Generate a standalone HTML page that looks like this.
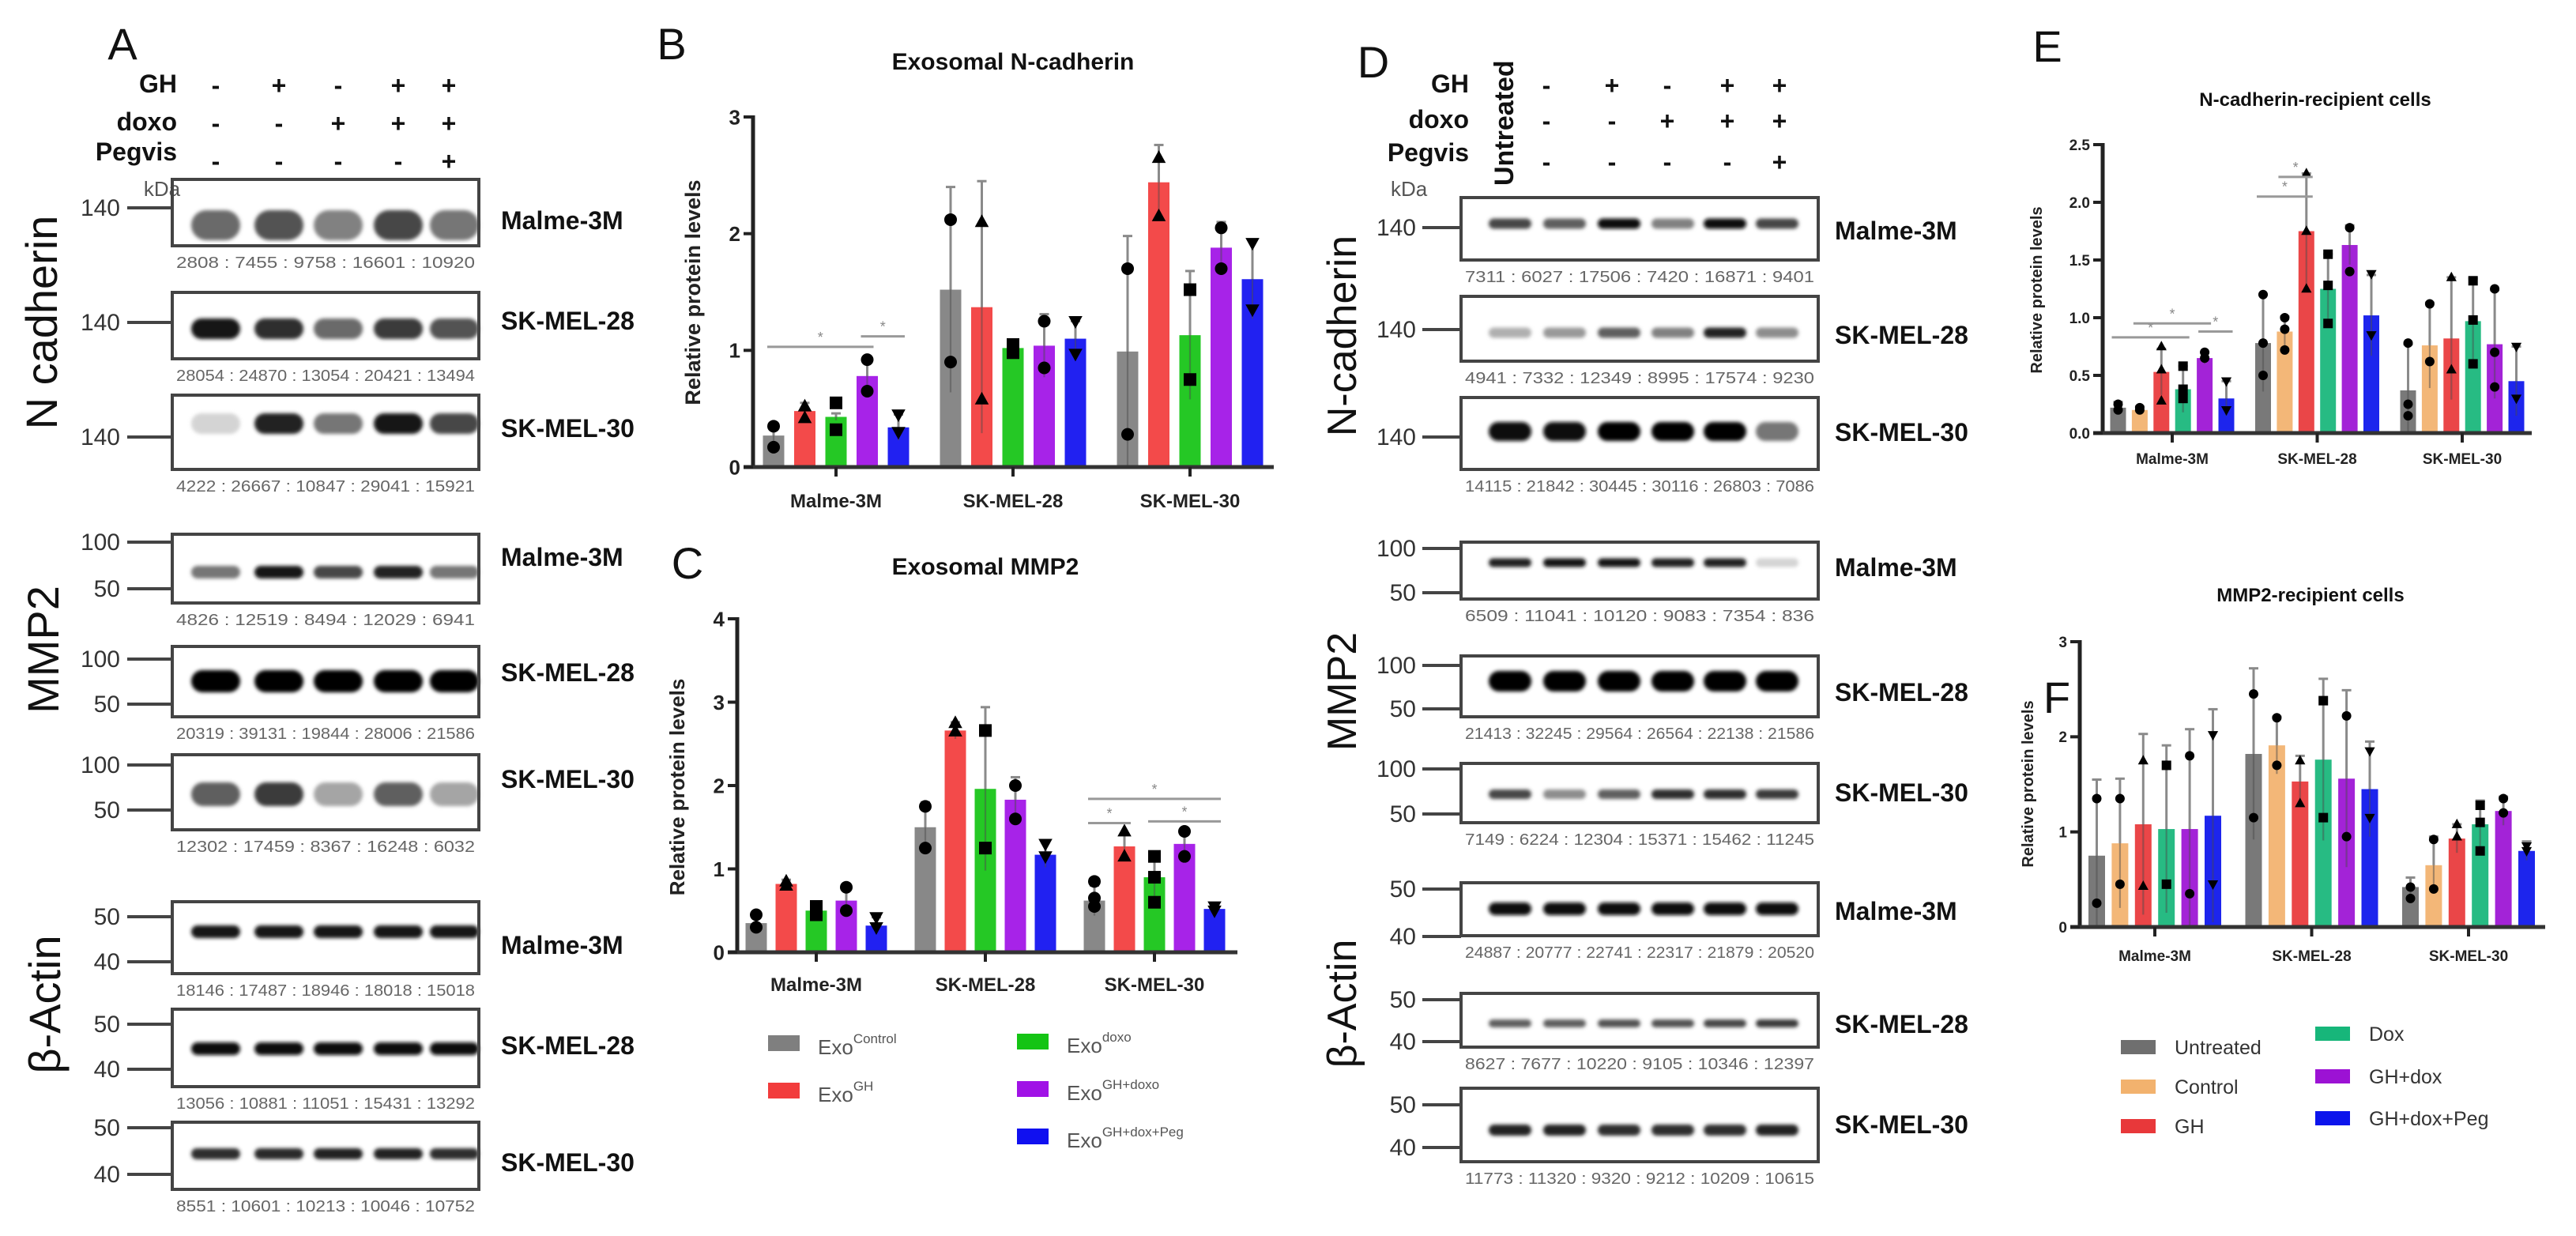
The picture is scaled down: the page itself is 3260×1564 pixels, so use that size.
<!DOCTYPE html>
<html><head><meta charset="utf-8"><title>Exosomal N-cadherin and MMP2 figure</title>
<style>
html,body{margin:0;padding:0;background:#fff;}
svg{display:block;font-family:"Liberation Sans",Arial,sans-serif;}
</style></head>
<body>
<svg id="fig" xmlns="http://www.w3.org/2000/svg" width="3260" height="1564" viewBox="0 0 3260 1564">
<defs>
<filter id="blur4" x="-30%" y="-100%" width="160%" height="300%"><feGaussianBlur stdDeviation="4"/></filter>
<filter id="blur2" x="-30%" y="-100%" width="160%" height="300%"><feGaussianBlur stdDeviation="2.5"/></filter>
</defs>
<rect x="0" y="0" width="3260" height="1564" fill="#fff"/>
<g id="blots"></g>
<g id="charts"></g>
</svg>
<script>
// ================= CHART DATA =================
var groupsBC = ["Malme-3M", "SK-MEL-28", "SK-MEL-30"];
var seriesBC = ["Control", "GH", "doxo", "GH+doxo", "GH+dox+Peg"];
var colorsBC = ["#7f7f7f", "#f23c3c", "#14c414", "#a012e6", "#1010f0"];
var markersBC = ["circle", "tri", "square", "circle", "itri"];

// Panel B: Exosomal N-cadherin (rows = group, cols = series)
var valuesB = [[0.27, 0.48, 0.43, 0.78, 0.34], [1.52, 1.37, 1.02, 1.04, 1.10], [0.99, 2.44, 1.13, 1.88, 1.61]];
var errB = [[0.06, 0.07, 0.03, 0.14, 0.11], [0.88, 1.08, 0.04, 0.27, 0.15], [0.99, 0.32, 0.55, 0.22, 0.34]];
var pointsB = [
  [[0.35, 0.17], [0.52, 0.42], [0.55, 0.32], [0.92, 0.65], [0.45, 0.3]],
  [[2.12, 0.9], [2.1, 0.58], [0.98, 1.05], [1.25, 0.85], [1.25, 0.97]],
  [[1.7, 0.28], [2.65, 2.15], [1.52, 0.75], [2.05, 1.7], [1.92, 1.35]]
];
var ticksB = [0, 1, 2, 3];
var tickLabelsB = ["0", "1", "2", "3"];

// Panel C: Exosomal MMP2
var valuesC = [[0.35, 0.82, 0.5, 0.62, 0.32], [1.5, 2.66, 1.96, 1.83, 1.17], [0.62, 1.27, 0.9, 1.3, 0.52]];
var errC = [[0.08, 0.05, 0.06, 0.15, 0.1], [0.3, 0.1, 0.98, 0.27, 0.15], [0.18, 0.15, 0.25, 0.15, 0.05]];
var pointsC = [
  [[0.45, 0.3], [0.85, 0.8], [0.55, 0.45], [0.78, 0.5], [0.42, 0.3]],
  [[1.75, 1.25], [2.75, 2.65], [2.66, 1.25], [2.0, 1.6], [1.3, 1.15]],
  [[0.85, 0.65, 0.55], [1.45, 1.15], [1.15, 0.9, 0.6], [1.45, 1.15], [0.55, 0.5]]
];
var ticksC = [0, 1, 2, 3, 4];
var tickLabelsC = ["0", "1", "2", "3", "4"];
var legendC = ["Control", "GH", "doxo", "GH+doxo", "GH+dox+Peg"];

var groupsEF = ["Malme-3M", "SK-MEL-28", "SK-MEL-30"];
var seriesEF = ["Untreated", "Control", "GH", "Dox", "GH+dox", "GH+dox+Peg"];
var colorsEF = ["#6f6f6f", "#f2b26e", "#e8383a", "#17b67a", "#9c12d4", "#0c14ec"];
var markersEF = ["circle", "circle", "tri", "square", "circle", "itri"];

// Panel E: N-cadherin recipient cells
var valuesE = [[0.22, 0.2, 0.53, 0.38, 0.65, 0.3], [0.78, 0.88, 1.75, 1.25, 1.63, 1.02], [0.37, 0.76, 0.82, 0.97, 0.77, 0.45]];
var errE = [[0.05, 0.03, 0.2, 0.2, 0.05, 0.15], [0.42, 0.13, 0.5, 0.3, 0.17, 0.35], [0.4, 0.37, 0.53, 0.37, 0.47, 0.3]];
var pointsE = [
  [[0.25, 0.2], [0.2, 0.22], [0.75, 0.55, 0.28], [0.58, 0.38, 0.3], [0.7, 0.65], [0.45, 0.2]],
  [[1.2, 0.78, 0.5], [1.0, 0.9, 0.72], [2.25, 1.75, 1.25], [1.55, 1.28, 0.95], [1.78, 1.4], [1.38, 0.85]],
  [[0.78, 0.25, 0.15], [1.12, 0.62], [1.35, 0.55], [1.32, 0.98, 0.6], [1.25, 0.7, 0.4], [0.75, 0.3]]
];
var ticksE = [0, 0.5, 1, 1.5, 2, 2.5];
var tickLabelsE = ["0.0", "0.5", "1.0", "1.5", "2.0", "2.5"];

// Panel F: MMP2 recipient cells
var valuesF = [[0.75, 0.88, 1.08, 1.03, 1.03, 1.17], [1.82, 1.91, 1.53, 1.76, 1.56, 1.45], [0.42, 0.65, 0.93, 1.08, 1.22, 0.8]];
var errF = [[0.8, 0.68, 0.95, 0.88, 1.05, 1.12], [0.9, 0.3, 0.27, 0.85, 0.93, 0.5], [0.1, 0.3, 0.15, 0.25, 0.15, 0.1]];
var pointsF = [
  [[1.35, 0.25], [1.35, 0.45], [1.75, 0.43], [1.7, 0.45], [1.8, 0.35], [2.02, 0.45]],
  [[2.45, 1.15], [2.2, 1.7], [1.75, 1.3], [2.38, 1.15], [2.22, 0.95], [1.85, 1.15]],
  [[0.42, 0.3], [0.92, 0.4], [1.08, 0.95], [1.28, 1.1, 0.8], [1.35, 1.2], [0.85, 0.8]]
];
var ticksF = [0, 1, 2, 3];
var tickLabelsF = ["0", "1", "2", "3"];

// ================= BLOT DATA =================
var lanesA = ["ctrl", "GH", "doxo", "GH+doxo", "GH+doxo+Pegvis"];
var lanesD = ["Untreated", "ctrl", "GH", "doxo", "GH+doxo", "GH+doxo+Pegvis"];
var blotIntensityA = [
  [0.55, 0.65, 0.45, 0.7, 0.5], [0.9, 0.8, 0.55, 0.75, 0.65], [0.1, 0.85, 0.5, 0.9, 0.7],
  [0.5, 0.9, 0.7, 0.85, 0.5], [1, 1, 1, 1, 1], [0.6, 0.75, 0.3, 0.6, 0.3],
  [0.9, 0.9, 0.9, 0.9, 0.9], [0.95, 0.95, 0.95, 0.95, 0.95], [0.8, 0.82, 0.85, 0.85, 0.8]
];
var blotIntensityD = [
  [0.7, 0.6, 0.95, 0.45, 0.95, 0.7], [0.25, 0.35, 0.6, 0.45, 0.85, 0.4], [0.95, 0.95, 1, 1, 1, 0.5],
  [0.85, 0.9, 0.9, 0.85, 0.85, 0.1], [1, 1, 1, 1, 1, 1], [0.7, 0.4, 0.6, 0.8, 0.8, 0.75],
  [0.95, 0.95, 0.95, 0.95, 0.95, 0.95], [0.6, 0.6, 0.65, 0.65, 0.7, 0.75], [0.85, 0.85, 0.8, 0.8, 0.8, 0.85]
];
var quantA = [
  "2808 : 7455 : 9758 : 16601 : 10920", "28054 : 24870 : 13054 : 20421 : 13494", "4222 : 26667 : 10847 : 29041 : 15921",
  "4826 : 12519 : 8494 : 12029 : 6941", "20319 : 39131 : 19844 : 28006 : 21586", "12302 : 17459 : 8367 : 16248 : 6032",
  "18146 : 17487 : 18946 : 18018 : 15018", "13056 : 10881 : 11051 : 15431 : 13292", "8551 : 10601 : 10213 : 10046 : 10752"
];
var quantD = [
  "7311 : 6027 : 17506 : 7420 : 16871 : 9401", "4941 : 7332 : 12349 : 8995 : 17574 : 9230", "14115 : 21842 : 30445 : 30116 : 26803 : 7086",
  "6509 : 11041 : 10120 : 9083 : 7354 : 836", "21413 : 32245 : 29564 : 26564 : 22138 : 21586", "7149 : 6224 : 12304 : 15371 : 15462 : 11245",
  "24887 : 20777 : 22741 : 22317 : 21879 : 20520", "8627 : 7677 : 10220 : 9105 : 10346 : 12397", "11773 : 11320 : 9320 : 9212 : 10209 : 10615"
];
var cellLines = ["Malme-3M", "SK-MEL-28", "SK-MEL-30", "Malme-3M", "SK-MEL-28", "SK-MEL-30", "Malme-3M", "SK-MEL-28", "SK-MEL-30"];

var NS = "http://www.w3.org/2000/svg";
var svg = document.getElementById("fig");
var gBlots = document.getElementById("blots");
var gCharts = document.getElementById("charts");

function mk(tag, attrs, parent) {
  var e = document.createElementNS(NS, tag);
  for (var k in attrs) e.setAttribute(k, attrs[k]);
  parent.appendChild(e);
  return e;
}
function txt(s, attrs, parent) {
  var e = mk("text", attrs, parent);
  e.textContent = s;
  return e;
}

// ================= STATIC LABELS =================
var panelLetters = [["A", 155, 75], ["B", 850, 75], ["C", 870, 732], ["D", 1738, 98], ["E", 2591, 78], ["F", 2603, 902]];
panelLetters.forEach(function (p) {
  var t = txt(p[0], { x: p[1], y: p[2], "font-size": 56, "text-anchor": "middle", fill: "#111" }, svg);
  
  
});

// Treatment header rows
function header(cfg) {
  var g = mk("g", {}, gBlots);
  
  
  var rows = ["GH", "doxo", "Pegvis"];
  rows.forEach(function (r, i) {
    var t = txt(r, { x: cfg.labelX, y: cfg.rowY[i] + 12, "font-size": 32, "font-weight": "bold", "text-anchor": "end", fill: "#111" }, g);
    
    
    cfg.signs[i].forEach(function (s, j) {
      var st = txt(s, { x: cfg.cols[j], y: cfg.rowY[i] + (i == 2 ? 24 : 14), "font-size": 32, "font-weight": "bold", "text-anchor": "middle", fill: "#111" }, g);
      
      
    });
  });
  var k = txt("kDa", { x: cfg.kdaX, y: cfg.kdaY, "font-size": 26, fill: "#555", "text-anchor": cfg.kdaAnchor }, g);
  
  
}
header({ name: "header-a", labelX: 224, rowY: [105, 153, 191], cols: [273, 353, 428, 504, 568], kdaX: 205, kdaY: 248, kdaAnchor: "middle",
  signs: [["-", "+", "-", "+", "+"], ["-", "-", "+", "+", "+"], ["-", "-", "-", "-", "+"]] });
header({ name: "header-d", labelX: 1859, rowY: [105, 150, 192], cols: [1957, 2040, 2110, 2186, 2252], kdaX: 1760, kdaY: 248, kdaAnchor: "start",
  signs: [["-", "+", "-", "+", "+"], ["-", "-", "+", "+", "+"], ["-", "-", "-", "-", "+"]] });
var ut = txt("Untreated", { x: 0, y: 0, "font-size": 34, "font-weight": "bold", fill: "#111", transform: "translate(1915,235) rotate(-90)" }, gBlots);



// Vertical protein labels
var protLabels = [["N cadherin", 72, 408, 56], ["MMP2", 74, 822, 56], ["β-Actin", 76, 1271, 56],
  ["N-cadherin", 1716, 425, 52], ["MMP2", 1716, 875, 52], ["β-Actin", 1716, 1270, 52]];
protLabels.forEach(function (p) {
  var t = txt(p[0], { x: 0, y: 0, "font-size": p[3], "text-anchor": "middle", fill: "#111", transform: "translate(" + p[1] + "," + p[2] + ") rotate(-90)" }, gBlots);
  
  
});

// ================= BLOTS =================
var blotBoxesA = [[227, 311], [370, 454], [500, 594], [676, 763], [818, 907], [955, 1050], [1141, 1232], [1277, 1375], [1420, 1505]];
var bandYA = [285, 416, 536, 724, 862, 1005, 1179, 1327, 1460];
var bandHA = [38, 26, 26, 16, 28, 30, 16, 16, 14];
var markersA = [[["140", 263]], [["140", 408]], [["140", 553]], [["100", 686], ["50", 745]], [["100", 834], ["50", 891]], [["100", 968], ["50", 1025]], [["50", 1160], ["40", 1217]], [["50", 1296], ["40", 1353]], [["50", 1427], ["40", 1486]]];
var labelYA = [278, 405, 541, 704, 850, 985, 1195, 1322, 1470];

var blotBoxesD = [[250, 329], [375, 457], [503, 594], [686, 758], [830, 907], [966, 1041], [1117, 1184], [1257, 1325], [1377, 1470]];
var bandYD = [283, 421, 546, 712, 862, 1005, 1150, 1295, 1430];
var bandHD = [13, 13, 24, 11, 26, 12, 16, 10, 14];
var markersD = [[["140", 288]], [["140", 417]], [["140", 553]], [["100", 694], ["50", 750]], [["100", 842], ["50", 897]], [["100", 973], ["50", 1030]], [["50", 1125], ["40", 1185]], [["50", 1265], ["40", 1318]], [["50", 1398], ["40", 1452]]];
var labelYD = [291, 423, 546, 717, 875, 1002, 1152, 1295, 1422];

function drawBlots(cfg) {
  for (var b = 0; b < 9; b++) {
    var g = mk("g", {}, gBlots);
    
    
    var y0 = cfg.boxes[b][0], y1 = cfg.boxes[b][1];
    var n = cfg.intens[b].length;
    for (var l = 0; l < n; l++) {
      var v = cfg.intens[b][l];
      var shade = Math.round(235 - v * 235);
      var band = mk("rect", { x: cfg.lanes[l] - cfg.bw / 2, y: cfg.bandY[b] - cfg.bandH[b] / 2, width: cfg.bw, height: cfg.bandH[b], rx: cfg.bandH[b] / 2,
        fill: "rgb(" + shade + "," + shade + "," + shade + ")", filter: "url(#blur2)" }, g);
      
      
    }
    var box = mk("rect", { x: cfg.x0, y: y0, width: cfg.x1 - cfg.x0, height: y1 - y0, fill: "none", stroke: "#444", "stroke-width": 4 }, g);
    
    
    cfg.markers[b].forEach(function (m) {
      var ln = mk("line", { x1: cfg.mkLine0, x2: cfg.x0, y1: m[1], y2: m[1], stroke: "#444", "stroke-width": 4 }, g);
      
      
      var mt = txt(m[0], { x: cfg.mkTextX, y: m[1] + 10, "font-size": 30, "text-anchor": "end", fill: "#333" }, g);
      
      
    });
    var q = txt(cfg.quant[b], { x: (cfg.x0 + cfg.x1) / 2, y: y1 + 28, "font-size": 20, "text-anchor": "middle", fill: "#666", textLength: cfg.x1 - cfg.x0 - 10, lengthAdjust: "spacingAndGlyphs" }, g);
    
    
    var cl = txt(cellLines[b], { x: cfg.labelX, y: cfg.labelY[b] + 12, "font-size": 32, "font-weight": "bold", fill: "#111" }, g);
    
    
  }
}
drawBlots({ prefix: "a", boxes: blotBoxesA, intens: blotIntensityA, lanes: [273, 353, 428, 504, 575], bw: 62, bandY: bandYA, bandH: bandHA, x0: 218, x1: 606,
  markers: markersA, mkLine0: 161, mkTextX: 152, quant: quantA, labelX: 634, labelY: labelYA });
drawBlots({ prefix: "d", boxes: blotBoxesD, intens: blotIntensityD, lanes: [1911, 1980, 2049, 2117, 2183, 2249], bw: 54, bandY: bandYD, bandH: bandHD, x0: 1849, x1: 2301,
  markers: markersD, mkLine0: 1800, mkTextX: 1792, quant: quantD, labelX: 2322, labelY: labelYD });

// ================= CHARTS =================
function marker(shape, cx, cy, r, parent) {
  var m;
  if (shape === "circle") m = mk("circle", { cx: cx, cy: cy, r: r, fill: "#000" }, parent);
  else if (shape === "square") m = mk("rect", { x: cx - r, y: cy - r, width: 2 * r, height: 2 * r, fill: "#000" }, parent);
  else if (shape === "tri") m = mk("polygon", { points: [cx, cy - r * 1.2, cx - r * 1.1, cy + r * 0.8, cx + r * 1.1, cy + r * 0.8].join(","), fill: "#000" }, parent);
  else m = mk("polygon", { points: [cx, cy + r * 1.2, cx - r * 1.1, cy - r * 0.8, cx + r * 1.1, cy - r * 0.8].join(","), fill: "#000" }, parent);
  return m;
}

function drawChart(c) {
  var g = mk("g", {}, gCharts);
  
  
  function yS(v) { return c.yZero - (v / c.ymax) * (c.yZero - c.yTop); }
  function xS(gi, si) { return c.firstGroup + gi * c.groupSpacing + (si - (c.series.length - 1) / 2) * c.barStep; }
  var title = txt(c.title, { x: c.titleX, y: c.titleY, "font-size": c.titleSize, "font-weight": "bold", "text-anchor": "middle", fill: "#111" }, g);
  
  
  var yl = txt("Relative protein levels", { x: 0, y: 0, "font-size": c.ylabSize, "font-weight": "bold", "text-anchor": "middle", fill: "#222", transform: "translate(" + c.ylabX + "," + c.ylabY + ") rotate(-90)" }, g);
  
  
  // bars, errors, points
  c.values.forEach(function (row, gi) {
    row.forEach(function (v, si) {
      var cx = xS(gi, si);
      var eTop = yS(v + c.err[gi][si]), eBot = yS(Math.max(0, v - c.err[gi][si]));
      var eb = mk("line", { x1: cx, x2: cx, y1: eTop, y2: eBot, stroke: "#8a8a8a", "stroke-width": 3 }, g);
      
      
      var cap = mk("line", { x1: cx - 6, x2: cx + 6, y1: eTop, y2: eTop, stroke: "#8a8a8a", "stroke-width": 3 }, g);
      
      
      var bar = mk("rect", { x: cx - c.barW / 2, y: yS(v), width: c.barW, height: c.yZero - yS(v), fill: c.colors[si], "fill-opacity": 0.93 }, g);
      
      
      var ov = mk("line", { x1: cx, x2: cx, y1: yS(v), y2: eBot, stroke: "#555", "stroke-width": 2, "stroke-opacity": 0.5 }, g);
      
      
      c.points[gi][si].forEach(function (p) {
        var m = marker(c.markers[si], cx, yS(p), c.markR, g);
        
        
      });
    });
  });
  // axes
  var ya = mk("line", { x1: c.axisX, x2: c.axisX, y1: c.yTop - 2, y2: c.yZero + 2, stroke: "#222", "stroke-width": 5 }, g);
  
  
  var xa = mk("line", { x1: c.axisX - 12, x2: c.axisEnd, y1: c.yZero, y2: c.yZero, stroke: "#333", "stroke-width": 5 }, g);
  
  
  c.ticks.forEach(function (t, i) {
    var tk = mk("line", { x1: c.axisX - 12, x2: c.axisX, y1: yS(t), y2: yS(t), stroke: "#222", "stroke-width": 4 }, g);
    
    
    var tl = txt(c.tickLabels[i], { x: c.axisX - 16, y: yS(t) + c.tickSize * 0.36, "font-size": c.tickSize, "font-weight": "bold", "text-anchor": "end", fill: "#222" }, g);
    
    
  });
  c.groups.forEach(function (name, gi) {
    var gx = c.firstGroup + gi * c.groupSpacing;
    var tk = mk("line", { x1: gx, x2: gx, y1: c.yZero, y2: c.yZero + 12, stroke: "#222", "stroke-width": 4 }, g);
    
    
    var tl = txt(name, { x: gx, y: c.xlabY, "font-size": c.xlabSize, "font-weight": "bold", "text-anchor": "middle", fill: "#222" }, g);
    
    
  });
  // significance bars
  (c.sig || []).forEach(function (s) {
    var y = yS(s[3]);
    var ln = mk("line", { x1: xS(s[0], s[1]) - 8, x2: xS(s[0], s[2]) + 8, y1: y, y2: y, stroke: "#999", "stroke-width": 3 }, g);
    
    
    var st = txt("*", { x: (xS(s[0], s[1]) + xS(s[0], s[2])) / 2, y: y - 6, "font-size": 18, "text-anchor": "middle", fill: "#888" }, g);
    
    
  });
  return g;
}

drawChart({ name: "chart-b-exosomal-n-cadherin", title: "Exosomal N-cadherin", titleX: 1282, titleY: 88, titleSize: 30,
  groups: groupsBC, series: seriesBC, colors: colorsBC, markers: markersBC, values: valuesB, err: errB, points: pointsB,
  ticks: ticksB, tickLabels: tickLabelsB, ymax: 3, yTop: 148, yZero: 591, axisX: 953, axisEnd: 1612,
  firstGroup: 1058, groupSpacing: 224, barStep: 39.5, barW: 27, markR: 8, tickSize: 26, xlabY: 642, xlabSize: 24,
  ylabX: 886, ylabY: 370, ylabSize: 27, sig: [[0, 0, 3, 1.03], [0, 3, 4, 1.12]] });

drawChart({ name: "chart-c-exosomal-mmp2", title: "Exosomal MMP2", titleX: 1247, titleY: 727, titleSize: 30,
  groups: groupsBC, series: seriesBC, colors: colorsBC, markers: markersBC, values: valuesC, err: errC, points: pointsC,
  ticks: ticksC, tickLabels: tickLabelsC, ymax: 4, yTop: 783, yZero: 1205, axisX: 933, axisEnd: 1566,
  firstGroup: 1033, groupSpacing: 214, barStep: 38, barW: 27, markR: 8, tickSize: 26, xlabY: 1254, xlabSize: 24,
  ylabX: 866, ylabY: 996, ylabSize: 26, sig: [[2, 0, 1, 1.55], [2, 2, 4, 1.57], [2, 0, 4, 1.84]] });

drawChart({ name: "chart-e-n-cadherin-recipient", title: "N-cadherin-recipient cells", titleX: 2930, titleY: 134, titleSize: 24,
  groups: groupsEF, series: seriesEF, colors: colorsEF, markers: markersEF, values: valuesE, err: errE, points: pointsE,
  ticks: ticksE, tickLabels: tickLabelsE, ymax: 2.5, yTop: 183, yZero: 548, axisX: 2661, axisEnd: 3204,
  firstGroup: 2749, groupSpacing: 183.5, barStep: 27.4, barW: 20, markR: 6, tickSize: 19, xlabY: 587, xlabSize: 19,
  ylabX: 2584, ylabY: 367, ylabSize: 20, sig: [[0, 0, 3, 0.83], [0, 1, 4, 0.95], [0, 4, 5, 0.88], [1, 0, 2, 2.05], [1, 1, 2, 2.22]] });

drawChart({ name: "chart-f-mmp2-recipient", title: "MMP2-recipient cells", titleX: 2924, titleY: 761, titleSize: 24,
  groups: groupsEF, series: seriesEF, colors: colorsEF, markers: markersEF, values: valuesF, err: errF, points: pointsF,
  ticks: ticksF, tickLabels: tickLabelsF, ymax: 3, yTop: 812, yZero: 1173, axisX: 2632, axisEnd: 3221,
  firstGroup: 2727, groupSpacing: 198.5, barStep: 29.4, barW: 21, markR: 6, tickSize: 19, xlabY: 1216, xlabSize: 19,
  ylabX: 2573, ylabY: 992, ylabSize: 20, sig: [] });

// ================= LEGENDS =================
var legC = mk("g", {}, gCharts);


var legCPos = [[972, 1320], [972, 1380], [1287, 1318], [1287, 1378], [1287, 1438]];
legendC.forEach(function (s, i) {
  var sw = mk("rect", { x: legCPos[i][0], y: legCPos[i][1] - 10, width: 40, height: 20, fill: colorsBC[i] }, legC);
  
  
  var t = mk("text", { x: legCPos[i][0] + 63, y: legCPos[i][1] + 14, "font-size": 26, fill: "#555" }, legC);
  
  
  var t1 = mk("tspan", {}, t); t1.textContent = "Exo";
  var t2 = mk("tspan", { dy: -14, "font-size": 17 }, t); t2.textContent = s;
});

var legEF = mk("g", {}, gCharts);


var legEFPos = [[2684, 1325], [2684, 1375], [2684, 1425], [2930, 1308], [2930, 1362], [2930, 1415]];
seriesEF.forEach(function (s, i) {
  var sw = mk("rect", { x: legEFPos[i][0], y: legEFPos[i][1] - 9, width: 44, height: 18, fill: colorsEF[i] }, legEF);
  
  
  var t = txt(s, { x: legEFPos[i][0] + 68, y: legEFPos[i][1] + 9, "font-size": 25, fill: "#333" }, legEF);
  
  
});
</script>
</body></html>
